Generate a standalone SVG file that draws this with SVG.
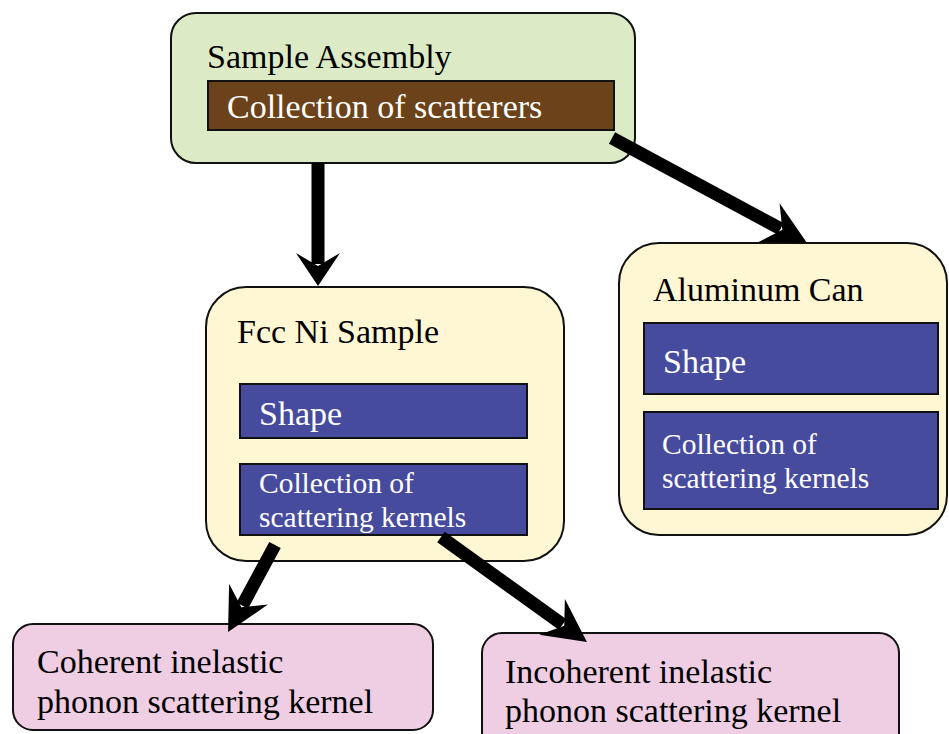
<svg xmlns="http://www.w3.org/2000/svg" width="949" height="734" viewBox="0 0 949 734">
<style>
  text { font-family: "Liberation Serif", "Times New Roman", serif; }
  .title { font-size: 34px; fill: #000; }
  .wt { font-size: 34px; fill: #fff; }
  .ws { font-size: 29.5px; fill: #fff; }
  .box { stroke: #111; stroke-width: 2; }
  .green { fill: #dcebc5; }
  .yellow { fill: #fff6d4; }
  .pink { fill: #efcde2; }
  .brown { fill: #6b4219; stroke: #111; stroke-width: 2; }
  .blue { fill: #474b9e; stroke: #111; stroke-width: 2; }
  .conn { stroke: #000; stroke-width: 13; fill: none; }
</style>
<defs>
  <marker id="headShort" markerUnits="userSpaceOnUse" orient="auto" refX="0" refY="0" viewBox="-15 -25 45 50" markerWidth="45" markerHeight="50" overflow="visible">
    <path d="M22,0 L-11,-22 L2,0 L-11,22 Z" fill="#000"/>
  </marker>
  <marker id="headLong" markerUnits="userSpaceOnUse" orient="auto" refX="0" refY="0" viewBox="-15 -25 50 50" markerWidth="50" markerHeight="50" overflow="visible">
    <path d="M30,0 L-13,-22 L2,0 L-13,22 Z" fill="#000"/>
  </marker>
</defs>
<rect width="949" height="734" fill="#fff"/>

<g id="sample-assembly">
  <rect class="box green" x="171" y="13" width="464" height="150" rx="25"/>
  <text class="title" x="207" y="68">Sample Assembly</text>
  <rect class="brown" x="208" y="81" width="406" height="49"/>
  <text class="wt" x="227" y="118">Collection of scatterers</text>
</g>

<g id="fcc-ni-sample">
  <rect class="box yellow" x="206" y="287" width="358" height="274" rx="40"/>
  <text class="title" x="237" y="343">Fcc Ni Sample</text>
  <rect class="blue" x="240" y="384" width="287" height="54"/>
  <text class="wt" x="259" y="425">Shape</text>
  <rect class="blue" x="240" y="464" width="287" height="71"/>
  <text class="ws" x="259" y="493">Collection of</text>
  <text class="ws" x="259" y="527">scattering kernels</text>
</g>

<g id="aluminum-can">
  <rect class="box yellow" x="619" y="243" width="328" height="292" rx="40"/>
  <text class="title" x="653" y="301">Aluminum Can</text>
  <rect class="blue" x="644" y="323" width="294" height="71"/>
  <text class="wt" x="663" y="373">Shape</text>
  <rect class="blue" x="644" y="412" width="294" height="97"/>
  <text class="ws" x="662" y="454">Collection of</text>
  <text class="ws" x="662" y="488">scattering kernels</text>
</g>

<g id="coherent-kernel">
  <rect class="box pink" x="13" y="624" width="420" height="106" rx="20"/>
  <text class="title" x="37" y="673">Coherent inelastic</text>
  <text class="title" x="37" y="713">phonon scattering kernel</text>
</g>

<g id="incoherent-kernel">
  <rect class="box pink" x="482" y="633" width="417" height="120" rx="20"/>
  <text class="title" x="505" y="683">Incoherent inelastic</text>
  <text class="title" x="505" y="722">phonon scattering kernel</text>
</g>

<g id="connectors">
  <line class="conn" x1="318" y1="163" x2="318" y2="264" marker-end="url(#headShort)"/>
  <line class="conn" x1="612" y1="138" x2="780.6" y2="228.8" marker-end="url(#headLong)"/>
  <line class="conn" x1="275" y1="545" x2="242.3" y2="605.6" marker-end="url(#headLong)"/>
  <line class="conn" x1="441" y1="537" x2="562.6" y2="624.5" marker-end="url(#headLong)"/>
</g>
</svg>
